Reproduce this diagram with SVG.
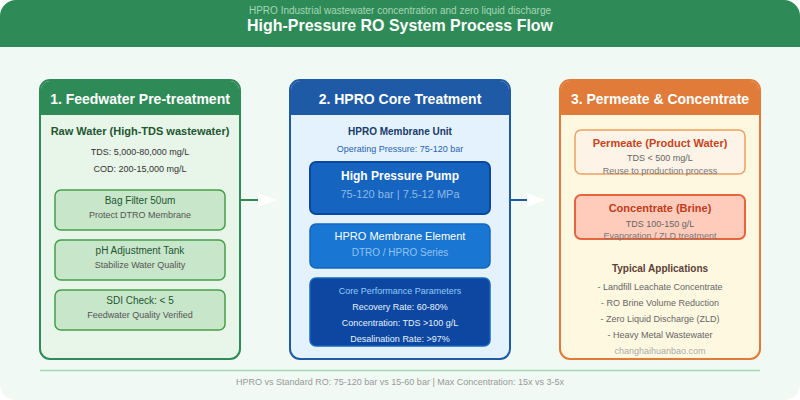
<svg xmlns="http://www.w3.org/2000/svg" width="800" height="400" viewBox="0 0 800 400">
<defs>
<style>
text{font-family:"Liberation Sans",Arial,sans-serif;text-anchor:middle}
.ph{font-size:14px;font-weight:bold;fill:#fff}
.st{font-size:10px;fill:#1e5631}
.ss{font-size:9px;fill:#555}
.gbox{fill:#c8e6c9;stroke:#43a047;stroke-width:1.5}
.app{font-size:9px;fill:#666}
</style>
<marker id="ah" markerWidth="19" markerHeight="14" refX="0" refY="7" orient="auto" markerUnits="userSpaceOnUse">
<path d="M0,0 L19,7 L0,14 Z" fill="#fff"/>
</marker>
<clipPath id="bgc"><rect x="0" y="0" width="800" height="400" rx="16"/></clipPath>
</defs>
<rect x="0" y="0" width="800" height="400" fill="#fff"/>
<g clip-path="url(#bgc)">
<rect x="0" y="0" width="800" height="400" fill="#f0f9f4"/>
<rect x="0" y="0" width="800" height="47" fill="#2e8b57"/>
</g>
<text x="400" y="14" textLength="302" lengthAdjust="spacingAndGlyphs" style="font-size:10px;fill:#a5d6b5">HPRO Industrial wastewater concentration and zero liquid discharge</text>
<text x="400" y="31" textLength="306" lengthAdjust="spacingAndGlyphs" style="font-size:17px;font-weight:bold;fill:#fff">High-Pressure RO System Process Flow</text>

<g id="connectors">
<path d="M241,200 H258" stroke="#2e8b57" stroke-width="2" fill="none" marker-end="url(#ah)"/>
<path d="M511,200 H527" stroke="#1f5aa6" stroke-width="2" fill="none" marker-end="url(#ah)"/>
</g>

<g id="pretreatment">
<rect x="40" y="80" width="200" height="279" rx="10" fill="#e8f5e9" stroke="#2e8b57" stroke-width="2"/>
<path d="M41,115 V90 A9,9 0 0 1 50,81 H230 A9,9 0 0 1 239,90 V115 Z" fill="#2e8b57"/>
<text class="ph" x="140" y="104">1. Feedwater Pre-treatment</text>
<text x="140" y="135" style="font-size:11px;font-weight:bold;fill:#1e5631">Raw Water (High-TDS wastewater)</text>
<text x="140" y="155" style="font-size:9px;fill:#333">TDS: 5,000-80,000 mg/L</text>
<text x="140" y="172" style="font-size:9px;fill:#333">COD: 200-15,000 mg/L</text>
<g id="bagfilter">
<rect class="gbox" x="55" y="190" width="170" height="40" rx="6"/>
<text class="st" x="140" y="204">Bag Filter 50um</text>
<text class="ss" x="140" y="218">Protect DTRO Membrane</text>
</g>
<g id="phtank">
<rect class="gbox" x="55" y="240" width="170" height="40" rx="6"/>
<text class="st" x="140" y="254">pH Adjustment Tank</text>
<text class="ss" x="140" y="268">Stabilize Water Quality</text>
</g>
<g id="sdi">
<rect class="gbox" x="55" y="290" width="170" height="40" rx="6"/>
<text class="st" x="140" y="304">SDI Check: &lt; 5</text>
<text class="ss" x="140" y="318">Feedwater Quality Verified</text>
</g>
</g>

<g id="core">
<rect x="290" y="80" width="220" height="279" rx="10" fill="#e3f2fd" stroke="#1f5aa6" stroke-width="2"/>
<path d="M291,115 V90 A9,9 0 0 1 300,81 H500 A9,9 0 0 1 509,90 V115 Z" fill="#1f5aa6"/>
<text class="ph" x="400" y="104">2. HPRO Core Treatment</text>
<text x="400" y="135" style="font-size:10px;font-weight:bold;fill:#1a3a6b">HPRO Membrane Unit</text>
<text x="400" y="152" style="font-size:9px;fill:#2a64b4">Operating Pressure: 75-120 bar</text>
<g id="pump">
<rect x="310" y="162" width="180" height="52" rx="6" fill="#1565c0" stroke="#0d47a1" stroke-width="2"/>
<text x="400" y="180" style="font-size:12px;font-weight:bold;fill:#fff">High Pressure Pump</text>
<text x="400" y="198" style="font-size:11px;fill:#8fb8e8">75-120 bar | 7.5-12 MPa</text>
</g>
<g id="element">
<rect x="310" y="224" width="180" height="44" rx="6" fill="#1976d2" stroke="#1565c0" stroke-width="1.5"/>
<text x="400" y="240" style="font-size:11px;fill:#fff">HPRO Membrane Element</text>
<text x="400" y="256" style="font-size:10px;fill:#90c4f5">DTRO / HPRO Series</text>
</g>
<g id="params">
<rect x="310" y="278" width="180" height="68" rx="6" fill="#0d47a1" stroke="#1565c0" stroke-width="1.5"/>
<text x="400" y="294" style="font-size:9px;fill:#90caf9">Core Performance Parameters</text>
<text x="400" y="310" style="font-size:9px;fill:#e3f2fd">Recovery Rate: 60-80%</text>
<text x="400" y="326" style="font-size:9px;fill:#e3f2fd">Concentration: TDS &gt;100 g/L</text>
<text x="400" y="342" style="font-size:9px;fill:#e3f2fd">Desalination Rate: &gt;97%</text>
</g>
</g>

<g id="output">
<rect x="560" y="80" width="200" height="279" rx="10" fill="#fff8e1" stroke="#e07b39" stroke-width="2"/>
<path d="M561,115 V90 A9,9 0 0 1 570,81 H750 A9,9 0 0 1 759,90 V115 Z" fill="#e07b39"/>
<text class="ph" x="660" y="104">3. Permeate &amp; Concentrate</text>
<g id="permeate">
<rect x="575" y="130" width="170" height="44" rx="6" fill="#fdf3e6" stroke="#f0a060" stroke-width="1.5"/>
<text x="660" y="147" style="font-size:11px;font-weight:bold;fill:#c8431e">Permeate (Product Water)</text>
<text x="660" y="161" style="font-size:9px;fill:#666">TDS &lt; 500 mg/L</text>
<text x="660" y="173.5" style="font-size:9px;fill:#777">Reuse to production process</text>
</g>
<g id="concentrate">
<rect x="575" y="195" width="170" height="44" rx="6" fill="#ffccbc" stroke="#e8643c" stroke-width="2"/>
<text x="660" y="212" style="font-size:11px;font-weight:bold;fill:#c23b1a">Concentrate (Brine)</text>
<text x="660" y="227" style="font-size:9px;fill:#666">TDS 100-150 g/L</text>
<text x="660" y="238.5" style="font-size:9px;fill:#777">Evaporation / ZLD treatment</text>
</g>
<text x="660" y="272" style="font-size:10px;font-weight:bold;fill:#5d4037">Typical Applications</text>
<text class="app" x="660" y="290">- Landfill Leachate Concentrate</text>
<text class="app" x="660" y="306">- RO Brine Volume Reduction</text>
<text class="app" x="660" y="322">- Zero Liquid Discharge (ZLD)</text>
<text class="app" x="660" y="338">- Heavy Metal Wastewater</text>
<text x="660" y="354" style="font-size:9px;fill:#aaa">changhaihuanbao.com</text>
</g>

<line x1="40" y1="370.5" x2="760" y2="370.5" stroke="#a5d6b5" stroke-width="1.5"/>
<text x="400" y="385" textLength="328" lengthAdjust="spacingAndGlyphs" style="font-size:9.5px;fill:#999">HPRO vs Standard RO: 75-120 bar vs 15-60 bar | Max Concentration: 15x vs 3-5x</text>
</svg>
